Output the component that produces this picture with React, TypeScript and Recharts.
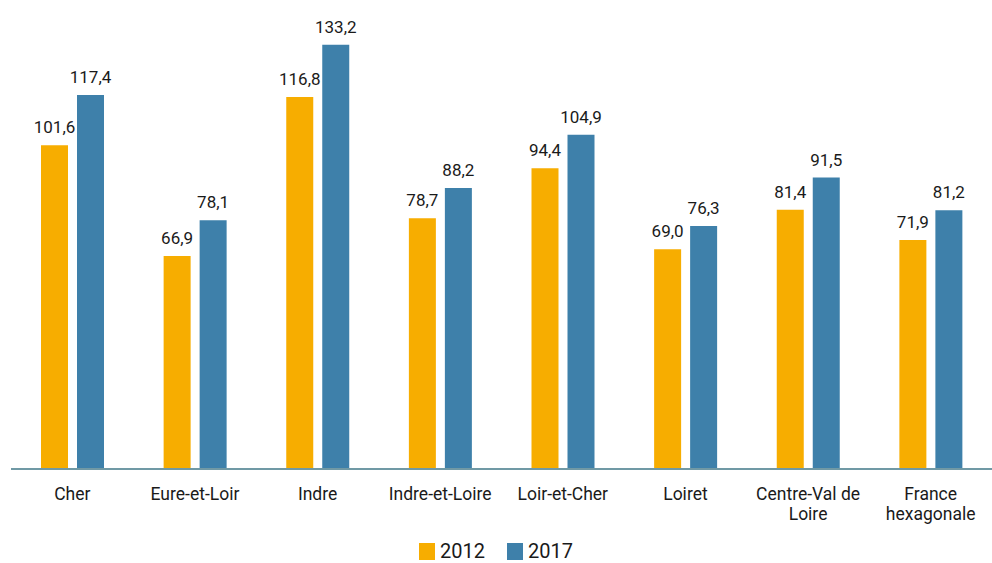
import { BarChart, Bar, XAxis, YAxis, Legend, LabelList } from 'recharts';

const categories = [
  'Cher',
  'Eure-et-Loir',
  'Indre',
  'Indre-et-Loire',
  'Loir-et-Cher',
  'Loiret',
  'Centre-Val de Loire',
  'France hexagonale',
];

// how each category label is broken on the axis
const tickLines: string[][] = [
  ['Cher'],
  ['Eure-et-Loir'],
  ['Indre'],
  ['Indre-et-Loire'],
  ['Loir-et-Cher'],
  ['Loiret'],
  ['Centre-Val de', 'Loire'],
  ['France', 'hexagonale'],
];

const values2012 = [101.6, 66.9, 116.8, 78.7, 94.4, 69.0, 81.4, 71.9];
const values2017 = [117.4, 78.1, 133.2, 88.2, 104.9, 76.3, 91.5, 81.2];

const ORANGE = '#F7AD00';
const BLUE = '#3E80AA';
const FONT = 'Roboto, "Liberation Sans", sans-serif';

const data = categories.map((name, i) => ({
  name,
  y2012: values2012[i],
  y2017: values2017[i],
}));

const fmt = (v: any) => Number(v).toFixed(1).replace('.', ',');

const CategoryTick = (props: any) => {
  const { x, y, index } = props;
  const lines = tickLines[index] || [String(props.payload?.value)];
  return (
    <text x={x} y={y + 23} textAnchor="middle" fill="#1a1a1a" fontSize={17.5} fontFamily={FONT}>
      {lines.map((l, k) => (
        <tspan key={k} x={x} dy={k === 0 ? 0 : 19.5}>
          {l}
        </tspan>
      ))}
    </text>
  );
};

const LegendContent = () => {
  const items = [
    { label: '2012', color: ORANGE },
    { label: '2017', color: BLUE },
  ];
  return (
    <div style={{ display: 'flex', justifyContent: 'center', gap: 22 }}>
      {items.map((it) => (
        <div key={it.label} style={{ display: 'flex', alignItems: 'center', height: 20 }}>
          <span style={{ width: 16, height: 17, background: it.color, display: 'inline-block', marginRight: 5 }} />
          <span style={{ fontFamily: FONT, fontSize: 20, lineHeight: '20px', color: '#1a1a1a' }}>{it.label}</span>
        </div>
      ))}
    </div>
  );
};

export default function App() {
  return (
    <div style={{ position: 'absolute', left: 0, top: 0, width: 992, height: 563, background: '#fff' }}>
      <BarChart
        width={992}
        height={563}
        data={data}
        margin={{ top: 23, right: 0, left: 11, bottom: 0 }}
        barSize={27}
        barGap={9}
      >
        <XAxis
          dataKey="name"
          height={94}
          tickLine={false}
          axisLine={{ stroke: '#7099A5', strokeWidth: 2 }}
          tick={<CategoryTick />}
          interval={0}
        />
        <YAxis hide domain={[0, 140]} />
        <Legend
          verticalAlign="middle"
          align="center"
          content={<LegendContent />}
          wrapperStyle={{ top: 541, left: 0, width: 992 }}
        />
        <Bar dataKey="y2012" name="2012" fill={ORANGE} isAnimationActive={false}>
          <LabelList
            dataKey="y2012"
            position="top"
            offset={12}
            formatter={fmt}
            style={{ fontFamily: FONT, fontSize: 17, fill: '#1a1a1a' }}
          />
        </Bar>
        <Bar dataKey="y2017" name="2017" fill={BLUE} isAnimationActive={false}>
          <LabelList
            dataKey="y2017"
            position="top"
            offset={12}
            formatter={fmt}
            style={{ fontFamily: FONT, fontSize: 17, fill: '#1a1a1a' }}
          />
        </Bar>
      </BarChart>
    </div>
  );
}
